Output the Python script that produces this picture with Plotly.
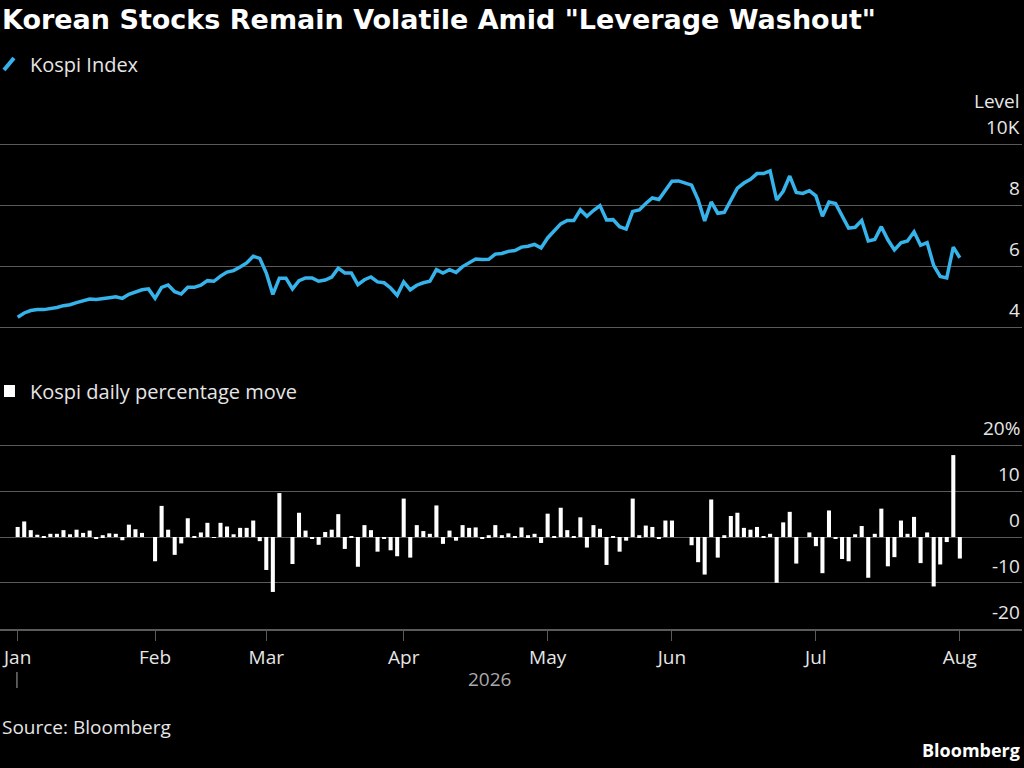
import pandas as pd
import plotly.graph_objects as go

holidays = ["2026-02-16", "2026-02-17", "2026-02-18", "2026-03-02", "2026-05-05", "2026-05-25", "2026-07-17"]
dates = [d.strftime("%Y-%m-%d") for d in pd.bdate_range("2026-01-02", "2026-08-03") if d.strftime("%Y-%m-%d") not in holidays]

kospi_level = [
    4.32, 4.46, 4.54, 4.57, 4.57, 4.60, 4.64, 4.70, 4.73, 4.80, 4.85, 4.92, 4.90, 4.92, 4.96, 4.99,
    4.94, 5.07, 5.16, 5.22, 5.25, 4.94, 5.30, 5.38, 5.16, 5.08, 5.30, 5.30, 5.37, 5.52, 5.50, 5.67,
    5.80, 5.85, 5.97, 6.10, 6.32, 6.25, 5.77, 5.07, 5.60, 5.60, 5.25, 5.52, 5.61, 5.61, 5.50, 5.54,
    5.64, 5.93, 5.77, 5.77, 5.39, 5.55, 5.64, 5.48, 5.45, 5.28, 5.04, 5.48, 5.22, 5.37, 5.45, 5.50,
    5.88, 5.77, 5.88, 5.79, 5.98, 6.10, 6.23, 6.21, 6.22, 6.39, 6.41, 6.48, 6.51,
    6.62, 6.65, 6.71, 6.59, 6.92, 7.16, 7.38, 7.49, 7.49, 7.84, 7.63, 7.82, 7.98, 7.51, 7.52, 7.29,
    7.21, 7.79, 7.84, 8.05, 8.23, 8.18, 8.47, 8.78, 8.79, 8.73, 8.65, 8.17, 7.48, 8.10, 7.73, 7.76,
    8.16, 8.55, 8.72, 8.84, 9.03, 9.03, 9.12, 8.17, 8.45, 8.95, 8.41, 8.38, 8.47, 8.30, 7.63, 8.10,
    8.05, 7.63, 7.24, 7.27, 7.49, 6.82, 6.87, 7.29, 6.86, 6.53, 6.76, 6.82, 7.12, 6.68, 6.77, 6.02,
    5.66, 5.61, 6.62, 6.27,
]

daily_move = [
    2.2, 3.4, 1.5, 0.5, 0.1, 0.7, 0.7, 1.5, 0.6, 1.6, 0.9, 1.4, -0.3, 0.4, 0.8, 0.7,
    -0.7, 2.7, 1.7, 0.9, 0.0, -5.3, 6.8, 1.6, -3.9, -1.4, 4.1, 0.1, 1.0, 3.1, -0.2, 3.1,
    2.3, 0.6, 2.0, 2.0, 3.6, -0.9, -7.2, -12.0, 9.6, 0.0, -5.9, 5.3, 1.4, -0.4, -1.7, 1.1,
    1.6, 5.0, -2.6, 0.2, -6.5, 2.6, 1.5, -3.2, -0.3, -2.9, -4.2, 8.4, -4.5, 2.6, 1.3, 0.7,
    6.9, -1.5, 1.4, -0.8, 2.6, 2.0, 2.1, -0.4, 0.4, 2.6, 0.4, 0.8, 0.1,
    2.1, 0.4, 0.7, -1.3, 5.1, 0.1, 6.4, 1.5, 0.1, 4.3, -2.3, 2.6, 1.8, -6.1, 0.2, -3.2,
    -0.8, 8.4, 0.4, 2.5, 2.2, -0.4, 3.6, 3.6, 0.0, 0.0, -1.8, -5.5, -8.2, 8.2, -4.5, 0.4,
    4.6, 5.3, 2.0, 1.6, 2.2, 0.1, 0.7, -10.0, 3.2, 5.5, -5.8, 0.0, 1.0, -2.0, -7.9, 5.8,
    -0.4, -4.8, -5.3, 0.6, 2.4, -8.9, 0.7, 6.2, -6.4, -4.4, 3.6, 0.7, 4.4, -5.7, 1.0, -10.8,
    -6.0, -1.1, 17.9, -4.7,
]

month_labels = ["Jan", "Feb", "Mar", "Apr", "May", "Jun", "Jul", "Aug"]
level_ticks = [4, 6, 8, 10]
level_ticktext = ["4", "6", "8", "10K"]
move_ticks = [20, 10, 0, -10, -20]
move_ticktext = ["20%", "10", "0", "-10", "-20"]

month_starts = []
seen = set()
for d in dates:
    m = d[:7]
    if m not in seen:
        seen.add(m)
        month_starts.append(d)

FONT = "Open Sans"
BLUE = "#36b3ea"
GRID = "#5a5a5a"
TXT = "#e6e6e6"
H = 768

def py(px):
    return 1 - px / H

fig = go.Figure()
fig.add_trace(go.Scatter(x=dates, y=kospi_level, mode="lines", line=dict(color=BLUE, width=3.5),
                         xaxis="x", yaxis="y", showlegend=False))
fig.add_trace(go.Bar(x=dates, y=daily_move, marker=dict(color="white", line=dict(width=0)),
                     xaxis="x2", yaxis="y2", showlegend=False))

xr = [-2.7, 153.5]
fig.update_layout(
    width=1024, height=768, paper_bgcolor="black", plot_bgcolor="black",
    margin=dict(l=0, r=2, t=0, b=0), bargap=0.38,
    font=dict(family=FONT, color=TXT, size=19),
    xaxis=dict(type="category", categoryarray=dates, range=xr, domain=[0, 1], anchor="y",
               showticklabels=False, showgrid=False, zeroline=False, showline=False),
    yaxis=dict(domain=[py(340), py(130)], range=[3.574, 10.459], side="right", tickvals=level_ticks,
               showticklabels=False, showgrid=True, gridcolor=GRID, gridwidth=1, zeroline=False, anchor="x"),
    xaxis2=dict(type="category", categoryarray=dates, range=xr, domain=[0, 1], anchor="y2",
                tickvals=month_starts, ticktext=month_labels, ticks="outside", ticklen=10, tickcolor=GRID,
                showline=True, linecolor=GRID, linewidth=2, showgrid=False, zeroline=False,
                tickfont=dict(size=19, color=TXT)),
    yaxis2=dict(domain=[py(629), py(440)], range=[-20.1, 21.2], side="right", tickvals=move_ticks,
                showticklabels=False, showgrid=True, gridcolor=GRID, gridwidth=1, zeroline=False, anchor="x2"),
)

ann = [
    dict(text='<b>Korean Stocks Remain Volatile Amid "Leverage Washout"</b>', x=0, y=py(19),
         font=dict(size=27, color="white", family="DejaVu Sans")),
    dict(text="Kospi Index", x=28 / 1024, y=py(64), font=dict(size=20, color=TXT)),
    dict(text="Kospi daily percentage move", x=28 / 1024, y=py(391), font=dict(size=20, color=TXT)),
    dict(text="Level", x=1, y=py(101), xanchor="right", font=dict(size=19, color=TXT)),
    dict(text="2026", x=490 / 1024, y=py(679), xanchor="center", font=dict(size=19, color="#aaaaaa")),
    dict(text="Source: Bloomberg", x=0, y=py(727), font=dict(size=19, color=TXT)),
    dict(text="<b>Bloomberg</b>", x=1, y=py(750), xanchor="right", font=dict(size=18, color="white")),
]
for a in ann:
    a.setdefault("xanchor", "left")
    fig.add_annotation(xref="paper", yref="paper", yanchor="middle", showarrow=False, **a)

for v, t in zip(level_ticks, level_ticktext):
    fig.add_annotation(xref="paper", yref="y", x=1, y=v, text=t, showarrow=False, xanchor="right",
                       yanchor="bottom", yshift=2, font=dict(size=19, color=TXT))
for v, t in zip(move_ticks, move_ticktext):
    fig.add_annotation(xref="paper", yref="y2", x=1, y=v, text=t, showarrow=False, xanchor="right",
                       yanchor="bottom", yshift=2, font=dict(size=19, color=TXT))

fig.add_shape(type="line", xref="paper", yref="paper", x0=4 / 1024, y0=py(70), x1=14 / 1024, y1=py(58),
              line=dict(color=BLUE, width=4))
fig.add_shape(type="rect", xref="paper", yref="paper", x0=4 / 1024, y0=py(397), x1=15 / 1024, y1=py(385),
              fillcolor="white", line=dict(width=0))
fig.add_shape(type="line", xref="paper", yref="paper", x0=17 / 1024, y0=py(672), x1=17 / 1024, y1=py(688),
              line=dict(color="#aaaaaa", width=1))

fig.write_html("out.html", config={"displayModeBar": False},
               post_script="document.body.style.margin='0';document.body.style.overflow='hidden';")
